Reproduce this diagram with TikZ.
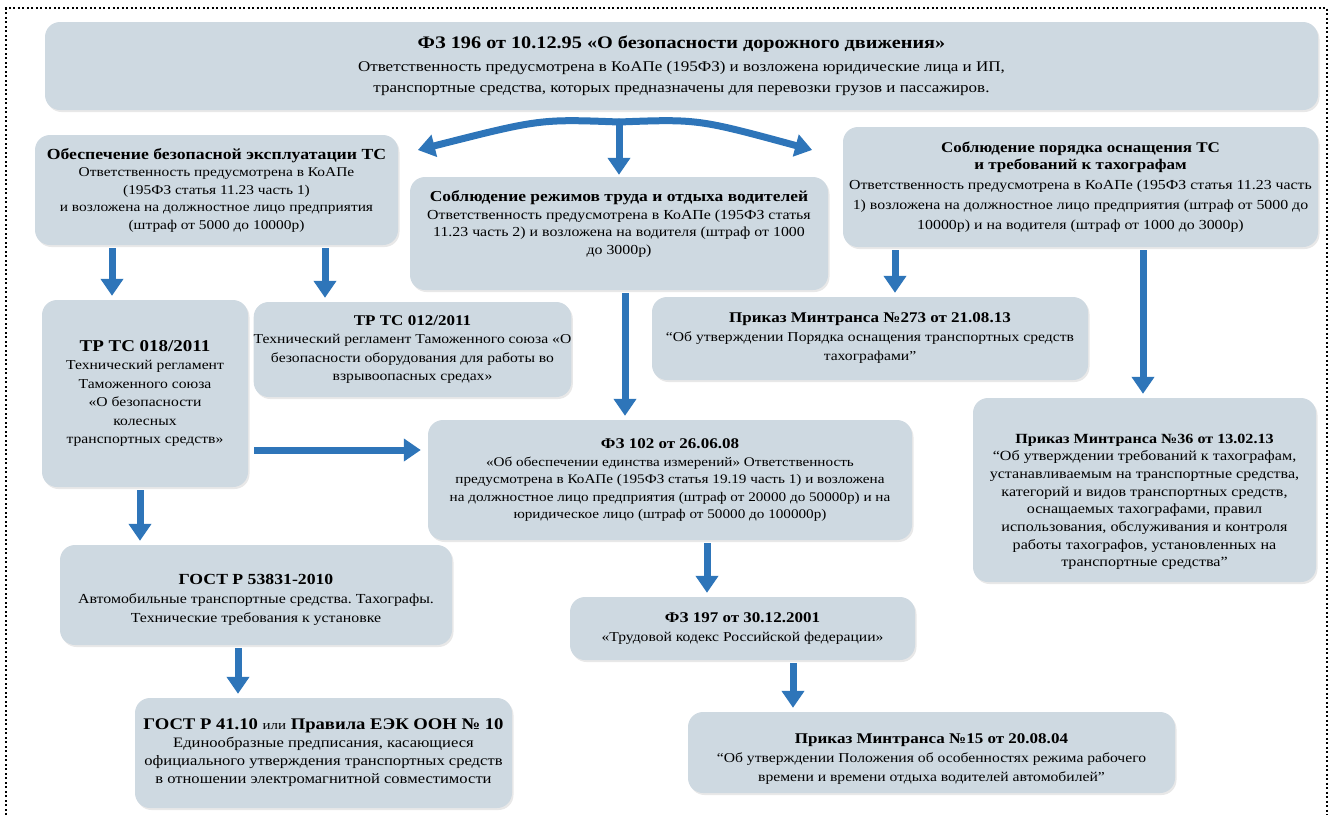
\documentclass[tikz,border=0pt]{standalone}
\usepackage{fontspec}
\setmainfont{Liberation Serif}[FakeStretch=1.15]
\usetikzlibrary{arrows.meta,calc,shadows}
\frenchspacing
\definecolor{boxfill}{RGB}{206,217,225}
\definecolor{arrowblue}{RGB}{46,117,185}
\newcommand\titf{\fontsize{14.8}{18}\selectfont\bfseries}
\newcommand\fs[2]{\fontsize{#1}{#2}\selectfont}
\newcommand\lift[1]{\rule{0pt}{#1}}
\begin{document}
\begin{tikzpicture}[x=1pt,y=-1pt,
  box/.style={fill=boxfill, rounded corners=15pt, align=center, inner sep=0pt,
    drop shadow={opacity=0.18, shadow xshift=1.5pt, shadow yshift=-2pt}},
  arr/.style={draw=arrowblue, line width=7pt, -{Triangle[width=22pt,length=17pt]}, shorten <=3pt, shorten >=4pt},
  frame/.style={draw=black, line width=2pt, dash pattern=on 2pt off 2.5pt}]
\useasboundingbox (0,0) rectangle (1331,815);
\draw[frame] (6,815) -- (6,8) -- (1327,8) -- (1327,815);

\node[box, minimum width=1273pt, minimum height=88pt, font=\fs{14.8}{21}] (top) at (681.5,66)
 {{\fs{17.6}{21}\bfseries ФЗ 196 от 10.12.95 «О безопасности дорожного движения»}\\[2pt]
  Ответственность предусмотрена в КоАПе (195ФЗ) и возложена юридические лица и ИП,\\
  транспортные средства, которых предназначены для перевозки грузов и пассажиров.};

\node[box, minimum width=363pt, minimum height=110pt, font=\fs{13.4}{17.5}] (A) at (216.5,190)
 {{\fs{15.4}{18}\bfseries Обеспечение безопасной эксплуатации ТС}\\
  Ответственность предусмотрена в КоАПе\\
  (195ФЗ статья 11.23 часть 1)\\
  и возложена на должностное лицо предприятия\\
  (штраф от 5000 до 10000р)};

\node[box, minimum width=418pt, minimum height=113pt, font=\fs{13.8}{17.5}] (B) at (619,233.5)
 {{\fs{15.2}{18}\bfseries Соблюдение режимов труда и отдыха водителей}\\
  Ответственность предусмотрена в КоАПе (195ФЗ статья\\
  11.23 часть 2) и возложена на водителя (штраф от 1000\\
  до 3000р)\\[4pt]};

\node[box, minimum width=475pt, minimum height=120pt, font=\fs{13.8}{20}] (C) at (1080.5,187)
 {{\titf Соблюдение порядка оснащения ТС}\\[-3pt]
  {\titf и требований к тахографам}\\
  Ответственность предусмотрена в КоАПе (195ФЗ статья 11.23 часть\\
  1) возложена на должностное лицо предприятия (штраф от 5000 до\\
  10000р) и на водителя (штраф от 1000 до 3000р)};

\node[box, minimum width=206pt, minimum height=187pt, font=\fs{13.6}{18.5}] (D) at (145,393.5)
 {{\fs{16.5}{20}\bfseries ТР ТС 018/2011}\\
  Технический регламент\\
  Таможенного союза\\
  «О безопасности\\
  колесных\\
  транспортных средств»};

\node[box, minimum width=315pt, minimum height=95pt, font=\fs{13.6}{18.5}] (E) at (412.5,349.5)
 {{\titf ТР ТС 012/2011}\\
  Технический регламент Таможенного союза «О\\
  безопасности оборудования для работы во\\
  взрывоопасных средах»};

\node[box, minimum width=436pt, minimum height=83pt, font=\fs{13.6}{19}] (F) at (870,338.5)
 {{\titf Приказ Минтранса №273 от 21.08.13}\\
  “Об утверждении Порядка оснащения транспортных средств\\
  тахографами”};

\node[box, minimum width=484pt, minimum height=120pt, font=\fs{13.2}{17.5}] (G) at (670,480)
 {{\titf ФЗ 102 от 26.06.08}\\
  «Об обеспечении единства измерений» Ответственность\\
  предусмотрена в КоАПе (195ФЗ статья 19.19 часть 1) и возложена\\
  на должностное лицо предприятия (штраф от 20000 до 50000р) и на\\
  юридическое лицо (штраф от 50000 до 100000р)};

\node[box, minimum width=343pt, minimum height=184pt, font=\fs{14}{17.7}] (H) at (1144.5,490)
 {{\fs{14}{18}\bfseries\lift{33pt}Приказ Минтранса №36 от 13.02.13}\\
  “Об утверждении требований к тахографам,\\
  устанавливаемым на транспортные средства,\\
  категорий и видов транспортных средств,\\
  оснащаемых тахографами, правил\\
  использования, обслуживания и контроля\\
  работы тахографов, установленных на\\
  транспортные средства”};

\node[box, minimum width=392pt, minimum height=100pt, font=\fs{13.8}{19}] (I) at (256,595)
 {{\fs{15.4}{20}\bfseries\lift{19pt}ГОСТ Р 53831-2010}\\
  Автомобильные транспортные средства. Тахографы.\\
  Технические требования к установке};

\node[box, minimum width=345pt, minimum height=63pt, font=\fs{13.6}{19}] (J) at (742.5,628.5)
 {{\titf ФЗ 197 от 30.12.2001}\\
  «Трудовой кодекс Российской федерации»};

\node[box, minimum width=377pt, minimum height=110pt, font=\fs{14.4}{18}] (K) at (323.5,753)
 {{\fs{16.2}{19}\bfseries ГОСТ Р 41.10 {\mdseries\fs{13}{19}или} Правила ЕЭК ООН № 10}\\
  Единообразные предписания, касающиеся\\
  официального утверждения транспортных средств\\
  в отношении электромагнитной совместимости};

\node[box, minimum width=487pt, minimum height=81pt, font=\fs{13.6}{19}] (L) at (931.5,752.5)
 {{\titf\lift{22pt}Приказ Минтранса №15 от 20.08.04}\\
  “Об утверждении Положения об особенностях режима рабочего\\
  времени и времени отдыха водителей автомобилей”};

% hub arrows from top box
\coordinate (hub) at (619,122);
\coordinate (lt) at (414,151);
\coordinate (rt) at (816,151);
\draw[arr, shorten <=0pt, line cap=round] (hub) .. controls (540,119) .. (lt);
\draw[arr, shorten <=0pt, line cap=round] (hub) .. controls (698,119) .. (rt);
\draw[arr, shorten <=0pt, shorten >=2pt] (hub) -- (B.north);

\coordinate (a1) at ($(A.south)+(-104.5,0)$);
\coordinate (a2) at ($(A.south)+(108.5,0)$);
\coordinate (b1) at ($(B.south)+(6,0)$);
\coordinate (c1) at ($(C.south)+(-185.5,0)$);
\coordinate (c2) at ($(C.south)+(62.5,0)$);
\coordinate (d1) at ($(D.east)+(0,56.5)$);
\coordinate (d2) at ($(D.south)+(-5,0)$);
\coordinate (g1) at ($(G.south)+(37,0)$);
\coordinate (i1) at ($(I.south)+(-18,0)$);
\coordinate (j1) at ($(J.south)+(50.5,0)$);

\draw[arr] (a1) -- (a1 |- D.north);
\draw[arr] (a2) -- (a2 |- E.north);
\draw[arr] (b1) -- (b1 |- G.north);
\draw[arr] (c1) -- (c1 |- F.north);
\draw[arr] (c2) -- (c2 |- H.north);
\draw[arr, shorten <=6pt, shorten >=7pt] (d1) -- (d1 -| G.west);
\draw[arr] (d2) -- (d2 |- I.north);
\draw[arr] (g1) -- (g1 |- J.north);
\draw[arr] (i1) -- (i1 |- K.north);
\draw[arr] (j1) -- (j1 |- L.north);
\end{tikzpicture}
\end{document}
